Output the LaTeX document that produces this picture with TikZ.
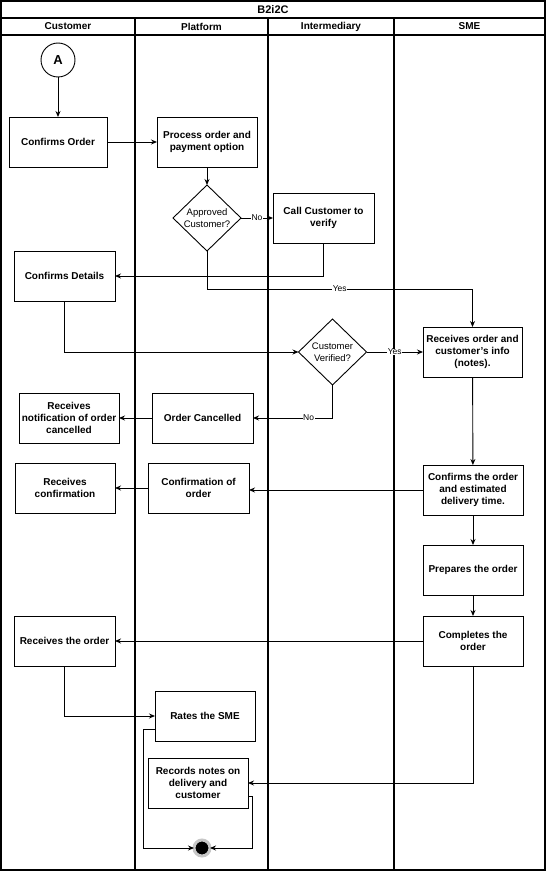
\documentclass[tikz,border=0pt]{standalone}
\usepackage{fontspec}
\setmainfont{Liberation Sans}
\usetikzlibrary{shapes.geometric,arrows.meta}
\begin{document}
\begin{tikzpicture}[x=1pt,y=-1pt,
  every node/.style={inner sep=0pt, outer sep=0pt},
  proc/.style={draw, line width=0.9pt, minimum width=100pt, minimum height=50pt, align=center,
    font=\bfseries\fontsize{10}{12}\selectfont},
  decis/.style={draw, diamond, line width=0.9pt, minimum width=68pt, minimum height=66pt, align=center,
    font=\fontsize{9.5}{12}\selectfont},
  arr/.style={draw, line width=0.9pt, -{Stealth[length=6pt,width=5pt]}},
  lbl/.style={fill=white, inner sep=0.5pt, font=\fontsize{8.5}{10}\selectfont},
  hdr/.style={font=\bfseries\fontsize{10}{12}\selectfont},
  lane/.style={line width=1.1pt}]
\useasboundingbox (0,0) rectangle (546,872);
% pool frame
\draw[lane] (1,1) rectangle (545,870);
\draw[lane] (1,18) -- (545,18);
\draw[lane] (1,35) -- (545,35);
\draw[lane] (135,18) -- (135,870);
\draw[lane] (268,18) -- (268,870);
\draw[lane] (394,18) -- (394,870);
\node[font=\bfseries\fontsize{11}{13}\selectfont] (title) at (273,10) {B2i2C};
\node[hdr] (h1) at (68,26.5) {Customer};
\node[hdr] (h2) at (201.5,26.5) {Platform};
\node[hdr] (h3) at (331,26.5) {Intermediary};
\node[hdr] (h4) at (469.5,26.5) {SME};
% nodes
\node[draw, circle, line width=0.9pt, minimum size=34pt, font=\bfseries\fontsize{13}{15}\selectfont] (A) at (58,60) {A};
\node[proc, minimum width=98pt] (co) at (58,142) {Confirms Order};
\node[proc] (po) at (207,142) {Process order and\\payment option};
\node[decis] (ac) at (207,218) {Approved\\Customer?};
\node[proc, minimum width=101pt] (cc) at (323.5,218) {Call Customer to\\verify};
\node[proc, minimum width=101pt] (cd) at (64.5,276) {Confirms Details};
\node[decis] (cv) at (332.5,352) {Customer\\Verified?};
\node[proc, minimum width=99pt] (ro) at (472.5,352) {Receives order and\\customer's info\\(notes).};
\node[proc] (rn) at (69,418) {Receives\\notification of order\\cancelled};
\node[proc, minimum width=101pt] (oc) at (202.5,418) {Order Cancelled};
\node[proc] (rc) at (65,488) {Receives\\confirmation};
\node[proc, minimum width=101pt] (cf) at (198.5,488) {Confirmation of\\order};
\node[proc] (ct) at (473,490) {Confirms the order\\and estimated\\delivery time.};
\node[proc] (pr) at (473,570) {Prepares the order};
\node[proc] (cp) at (473,641) {Completes the\\order};
\node[proc, minimum width=101pt] (rt) at (64.5,641) {Receives the order};
\node[proc] (rs) at (205,716) {Rates the SME};
\node[proc] (rd) at (198,783) {Records notes on\\delivery and\\customer};
\node[circle, fill=black, draw=black!22, line width=3pt, minimum size=16pt] (end) at (202,848) {};
% connectors
\draw[arr] (A) -- (co);
\draw[arr] (co) -- (po);
\draw[arr] (po) -- (ac);
\draw[arr] (ac) -- node[lbl]{No} (cc);
\draw[arr] (cc.south) |- (cd.east);
\draw[arr] (ac.south) -- (ac.south |- 0,289) -- node[lbl]{Yes} (ro.north |- 0,289) -- (ro.north);
\draw[arr] (cd.south) |- (cv.west);
\draw[arr] (cv) -- node[lbl]{Yes} (ro);
\draw[arr] (cv.south) |- node[lbl, pos=0.65]{No} (oc.east);
\draw[arr] (oc) -- (rn);
\draw[arr] (ro) -- (ct);
\draw[arr] (ct.west) -- (cf.east |- ct.west);
\draw[arr] (cf) -- (rc);
\draw[arr] (ct) -- (pr);
\draw[arr] (pr) -- (cp);
\draw[arr] (cp) -- (rt);
\draw[arr] (rt.south) |- (rs.west);
\draw[arr] (cp.south) |- (rd.east);
\draw[arr] ([yshift=-13pt]rs.west) -- ++(-12,0) |- (end.west);
\draw[arr] ([yshift=-13pt]rd.east) -- ++(4,0) |- (end.east);
\end{tikzpicture}
\end{document}
